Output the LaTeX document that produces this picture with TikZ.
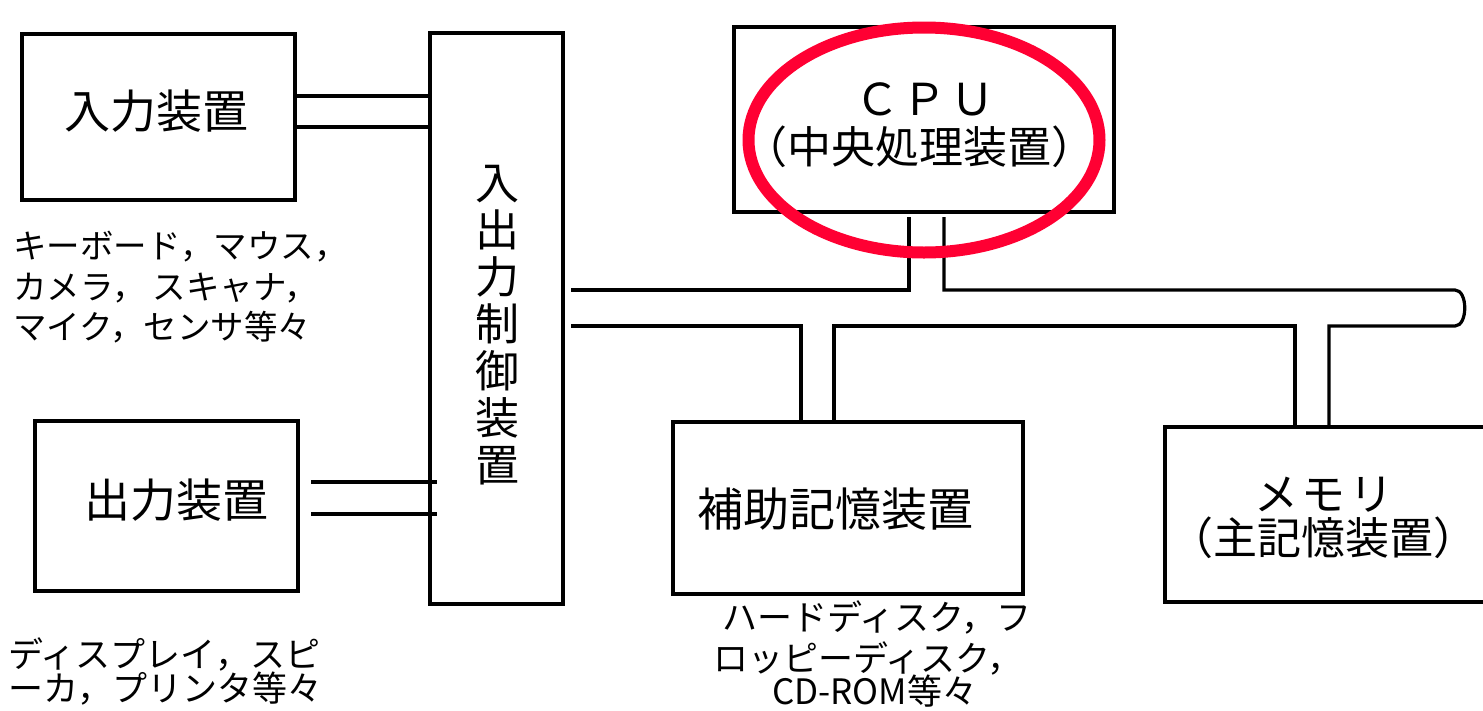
\documentclass[tikz,border=0pt]{standalone}
\usepackage{fontspec}
\setmainfont{Noto Sans CJK JP}
\usetikzlibrary{calc,shapes.geometric}
\definecolor{ringred}{RGB}{255,0,51}
\begin{document}
\begin{tikzpicture}[x=1pt,y=-1pt,
  unitbox/.style={draw,line width=3.2pt,inner sep=0pt,outer sep=0pt},
  wire/.style={draw,line width=3.2pt},
  txtbig/.style={inner sep=0pt,font=\fontsize{46}{47}\selectfont},
  txtmid/.style={inner sep=0pt,font=\fontsize{44}{47}\selectfont},
  capa/.style={inner sep=0pt,anchor=base west,font=\fontsize{33.5}{40}\selectfont},
  capb/.style={inner sep=0pt,anchor=base west,font=\fontsize{35}{40}\selectfont},
  redring/.style={draw=ringred,ellipse,line width=12pt,inner sep=0pt}]
\useasboundingbox (0,0) rectangle (1483,710);
\clip (0,0) rectangle (1483,710);
\fill[white] (0,0) rectangle (1483,710);

% boxes
\node[unitbox,minimum width=273pt,minimum height=166pt] (in) at (158.5,117) {};
\node[unitbox,minimum width=263pt,minimum height=170pt] (out) at (166.5,506) {};
\node[unitbox,minimum width=133pt,minimum height=571pt] (io) at (496.5,318.5) {};
\node[unitbox,minimum width=380pt,minimum height=185pt] (cpu) at (924,119.5) {};
\node[unitbox,minimum width=350pt,minimum height=172pt] (aux) at (848,508) {};
\node[unitbox,minimum width=355pt,minimum height=175pt] (mem) at (1342.5,514.5) {};

% box texts
\node[txtbig] (intext) at (156,111) {入力装置};
\node[txtbig] (outtext) at (176,500) {出力装置};
\node[txtmid,align=center] (iotext) at (497,325) {入\\出\\力\\制\\御\\装\\置};
\node[txtmid] (cputext1) at (925,99) {Ｃ\kern4ptＰ\kern4ptＵ};
\node[txtmid] (cputext2) at (919,147) {（中央処理装置）};
\node[txtbig] (auxtext) at (835,509) {補助記憶装置};
\node[txtmid] (memtext1) at (1324,495) {メ\kern4ptモ\kern4ptリ};
\node[txtmid] (memtext2) at (1323,538) {（主記憶装置）};

% captions
\node[capa] (inc1) at (13,258) {キーボード，マウス，};
\node[capa] (inc2) at (13,299) {カメラ， スキャナ，};
\node[capa] (inc3) at (13,339) {マイク，センサ等々};
\node[capb] (outc1) at (8,667) {ディスプレイ，スピ};
\node[capb] (outc2) at (8,701) {ーカ，プリンタ等々};
\node[capb] (auxc1) at (722,630) {ハードディスク，フ};
\node[capb] (auxc2) at (713,671) {ロッピーディスク，};
\node[capb] (auxc3) at (772,704) {CD-ROM等々};

% helper coordinates
\coordinate (r1) at (0,96);
\coordinate (r2) at (0,127);
\coordinate (r3) at (0,482);
\coordinate (r4) at (0,514);
\coordinate (busU) at (0,290);
\coordinate (busL) at (0,326);
\coordinate (cL) at ($(cpu.south)+(-15,5)$);
\coordinate (cR) at ($(cpu.south)+(20,5)$);
\coordinate (aL) at ($(aux.north)+(-47,0)$);
\coordinate (aR) at ($(aux.north)+(-14,0)$);
\coordinate (mL) at ($(mem.north)+(-47.5,0)$);
\coordinate (mR) at ($(mem.north)+(-13.5,0)$);
\coordinate (bend) at (1455,0);

% connectors
\draw[wire] (in.east |- r1) -- (io.west |- r1);
\draw[wire] (in.east |- r2) -- (io.west |- r2);
\draw[wire] ($(out.east |- r3)+(13,0)$) -- ($(io.west |- r3)+(7,0)$);
\draw[wire] ($(out.east |- r4)+(13,0)$) -- ($(io.west |- r4)+(7,0)$);
\draw[wire] ($(io.east |- busU)+(8,0)$) -| (cL);
\draw[wire] ($(io.east |- busL)+(8,0)$) -| (aL);
\draw[wire] (aR) |- (mL |- busL) -- (mL);
\draw[wire] (mR) |- (bend |- busL)
  .. controls ($(bend |- busL)+(13,0)$) and ($(bend |- busU)+(13,0)$) .. (bend |- busU)
  -| (cR);

% red ring
\node[redring,minimum width=351pt,minimum height=225pt] (ringnode) at (924,140) {};
\end{tikzpicture}
\end{document}
